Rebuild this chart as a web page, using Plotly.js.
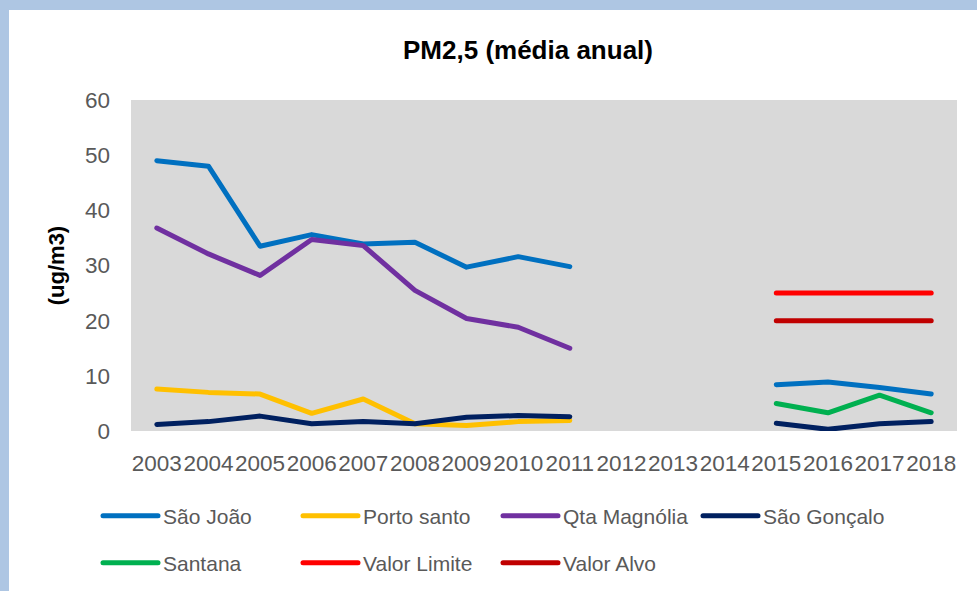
<!DOCTYPE html>
<html>
<head>
<meta charset="utf-8">
<script src="https://cdn.plot.ly/plotly-3.0.1.min.js"></script>
<style>
  html, body { margin: 0; padding: 0; }
  body { width: 977px; height: 591px; background: #aec6e3; position: relative; overflow: hidden; }
  #panel { position: absolute; left: 9px; top: 10px; width: 968px; height: 581px; background: #ffffff; }
  #chart { position: absolute; left: 0; top: 0; width: 977px; height: 591px; }
  #chart .scatterlayer path.js-line,
  #chart .legendlines path { stroke-linecap: round; stroke-linejoin: round; }
</style>
</head>
<body>
<div id="panel"></div>
<div id="chart"></div>
<script>
// ---- data ----
const years = [2003, 2004, 2005, 2006, 2007, 2008, 2009, 2010, 2011, 2012, 2013, 2014, 2015, 2016, 2017, 2018];
const tickLabels = ["2003","2004","2005","2006","2007","2008","2009","2010","2011","2012","2013","2014","2015","2016","2017","2018"];

const saoJoao     = [49.0, 48.0, 33.5, 35.6, 33.9, 34.2, 29.7, 31.6, 29.8, null, null, null, 8.4, 8.9, 7.9, 6.7];
const portoSanto  = [7.6, 7.0, 6.7, 3.2, 5.8, 1.3, 1.0, 1.7, 1.9, null, null, null, null, null, null, null];
const qtaMagnolia = [36.8, 32.1, 28.2, 34.7, 33.6, 25.5, 20.4, 18.8, 15.0, null, null, null, null, null, null, null];
const saoGoncalo  = [1.2, 1.7, 2.7, 1.3, 1.7, 1.3, 2.5, 2.8, 2.6, null, null, null, 1.4, 0.3, 1.3, 1.7];
const santana     = [null, null, null, null, null, null, null, null, null, null, null, null, 5.0, 3.3, 6.5, 3.3];
const valorLimite = [null, null, null, null, null, null, null, null, null, null, null, null, 25, 25, 25, 25];
const valorAlvo   = [null, null, null, null, null, null, null, null, null, null, null, null, 20, 20, 20, 20];

const seriesNames  = ["São João", "Porto santo", "Qta Magnólia", "São Gonçalo", "Santana", "Valor Limite", "Valor Alvo"];
const seriesValues = [saoJoao, portoSanto, qtaMagnolia, saoGoncalo, santana, valorLimite, valorAlvo];
const seriesColors = ["#0070C0", "#FFC000", "#7030A0", "#002060", "#00B050", "#FF0000", "#C00000"];
const seriesLegend = ["legend", "legend", "legend", "legend", "legend2", "legend2", "legend2"];

const FONT = "Liberation Sans, Arial, sans-serif";
const GREY = "#595959";

const traces = seriesNames.map((name, i) => ({
  type: "scatter",
  mode: "lines",
  name: name,
  x: years,
  y: seriesValues[i],
  connectgaps: false,
  line: { color: seriesColors[i], width: 5 },
  legend: seriesLegend[i],
  hoverinfo: "skip"
}));

const legendCommon = {
  orientation: "h",
  xref: "container", yref: "container",
  xanchor: "left", yanchor: "middle",
  entrywidth: 130, entrywidthmode: "pixels",
  itemwidth: 55,
  font: { family: FONT, size: 21, color: GREY },
  bgcolor: "rgba(0,0,0,0)",
  traceorder: "normal"
};

const layout = {
  width: 977, height: 591,
  paper_bgcolor: "rgba(0,0,0,0)",
  plot_bgcolor: "#D9D9D9",
  margin: { l: 131, r: 20, t: 100, b: 160, pad: 0 },
  title: {
    text: "<b>PM2,5 (média anual)</b>",
    font: { family: FONT, size: 26, color: "#000000" },
    xref: "container", yref: "container",
    x: 528 / 977, xanchor: "center",
    y: 1 - 50 / 591, yanchor: "middle"
  },
  xaxis: {
    range: [2002.5, 2018.5],
    tickmode: "array",
    tickvals: years,
    ticktext: tickLabels,
    tickangle: 0,
    showgrid: false, zeroline: false, showline: false,
    ticks: "",
    ticklabelstandoff: 16,
    tickfont: { family: FONT, size: 22.5, color: GREY },
    fixedrange: true
  },
  yaxis: {
    range: [0, 60],
    tickmode: "linear", tick0: 0, dtick: 10,
    showgrid: false, zeroline: false, showline: false,
    ticks: "",
    ticklabelstandoff: 20,
    tickfont: { family: FONT, size: 22.5, color: GREY },
    title: { text: "<b>(ug/m3)</b>", font: { family: FONT, size: 22, color: "#000000" }, standoff: 14 },
    fixedrange: true
  },
  showlegend: true,
  legend: Object.assign({}, legendCommon, { x: 98 / 977, y: 1 - 516 / 591 }),
  legend2: Object.assign({}, legendCommon, { x: 98 / 977, y: 1 - 563 / 591 })
};

Plotly.newPlot("chart", traces, layout, { displayModeBar: false, staticPlot: true });
</script>
</body>
</html>
